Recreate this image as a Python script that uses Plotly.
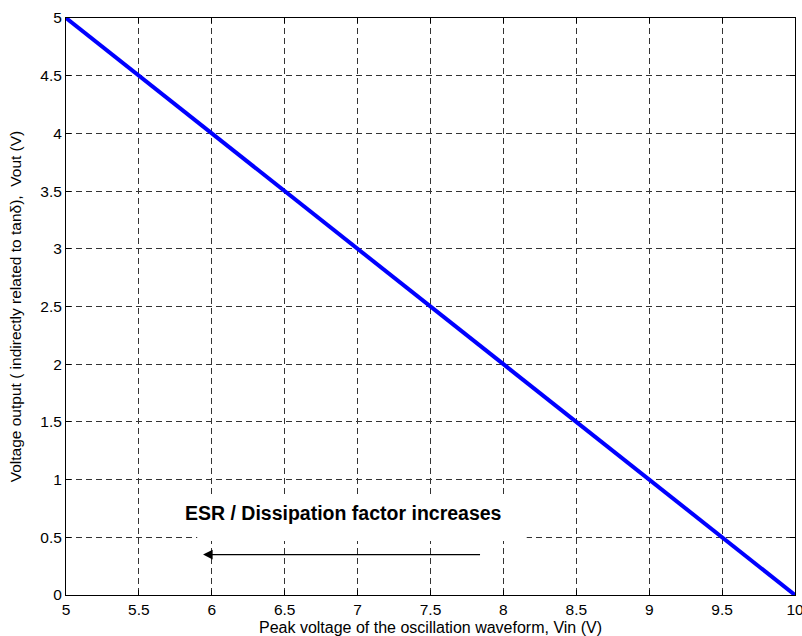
import plotly.graph_objects as go

vin = [5.0, 5.5, 6.0, 6.5, 7.0, 7.5, 8.0, 8.5, 9.0, 9.5, 10.0]
vout = [5.0, 4.5, 4.0, 3.5, 3.0, 2.5, 2.0, 1.5, 1.0, 0.5, 0.0]

x_ticks = [5, 5.5, 6, 6.5, 7, 7.5, 8, 8.5, 9, 9.5, 10]
x_ticktext = ["5", "5.5", "6", "6.5", "7", "7.5", "8", "8.5", "9", "9.5", "10"]
y_ticks = [0, 0.5, 1, 1.5, 2, 2.5, 3, 3.5, 4, 4.5, 5]
y_ticktext = ["0", "0.5", "1", "1.5", "2", "2.5", "3", "3.5", "4", "4.5", "5"]

annot_text = "ESR / Dissipation factor increases"
arrow_start = (7.85, 0.35)
arrow_end = (5.94, 0.35)
text_pos = (6.90, 0.71)

fig = go.Figure()
fig.add_trace(go.Scatter(x=vin, y=vout, mode="lines",
                         line=dict(color="#0000ff", width=4), showlegend=False))

font_family = "Liberation Sans, Arial, sans-serif"
axis_common = dict(
    showline=True, linecolor="black", linewidth=1, mirror="ticks",
    ticks="inside", ticklen=5, tickcolor="black",
    showgrid=True, gridcolor="#333333", gridwidth=1, griddash="6px,4px",
    zeroline=False, automargin=False, ticklabeloverflow="allow",
    tickfont=dict(family=font_family, size=15.5, color="black"),
)

fig.update_layout(
    width=802, height=636,
    margin=dict(l=66, r=7, t=18, b=41),
    paper_bgcolor="white", plot_bgcolor="white",
    xaxis=dict(range=[5, 10], tickvals=x_ticks, ticktext=x_ticktext,
               title=dict(text="Peak voltage of the oscillation waveform, Vin (V)",
                          font=dict(family=font_family, size=16, color="black"),
                          standoff=7),
               **axis_common),
    yaxis=dict(range=[0, 5], tickvals=y_ticks, ticktext=y_ticktext,
               title=dict(text="Voltage output ( indirectly related to tanδ),  Vout (V)",
                          font=dict(family=font_family, size=15.5, color="black"),
                          standoff=14),
               **axis_common),
)

# white background box behind annotation text (covers gridlines)
fig.add_shape(type="rect", xref="x", yref="y", x0=5.90, x1=8.16, y0=0.468, y1=0.85,
              fillcolor="white", line=dict(width=0), layer="above")

fig.add_annotation(x=text_pos[0], y=text_pos[1], xref="x", yref="y",
                   text="<b>" + annot_text + "</b>", showarrow=False,
                   font=dict(family=font_family, size=19.5, color="black"))

fig.add_annotation(x=arrow_end[0], y=arrow_end[1], ax=arrow_start[0], ay=arrow_start[1],
                   xref="x", yref="y", axref="x", ayref="y", text="",
                   showarrow=True, arrowhead=2, arrowsize=1.6, arrowwidth=1.2,
                   arrowcolor="black")

fig.write_html("out.html")
